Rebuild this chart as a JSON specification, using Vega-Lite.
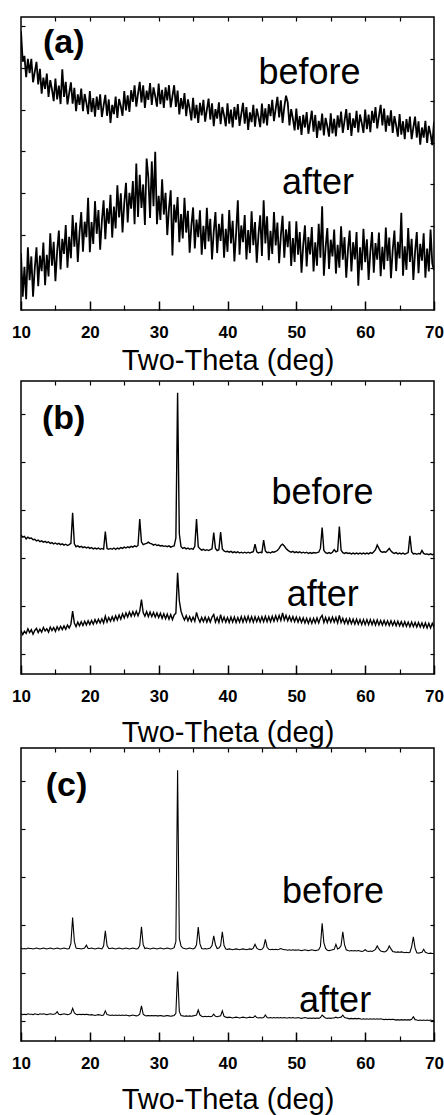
{
"$schema": "https://vega.github.io/schema/vega-lite/v6.json",
"background": "white",
"padding": {"left": 10, "top": 15, "right": 0, "bottom": 0},
"config": {
  "font": "Liberation Sans",
  "view": {"stroke": "black", "strokeWidth": 1.5},
  "axis": {"grid": false, "domain": false, "tickColor": "black", "tickWidth": 1.2, "labelColor": "black", "titleColor": "black", "labelFont": "Liberation Sans", "titleFont": "Liberation Sans"}
},
"datasets": {
"lab": [
{"p":"a","w":"b","t":"(a)","x":13.2,"y":6.14},
{"p":"a","w":"n","t":"before","x":44.5,"y":5.40},
{"p":"a","w":"n","t":"after","x":47.9,"y":2.77},
{"p":"b","w":"b","t":"(b)","x":13.05,"y":5.85},
{"p":"b","w":"n","t":"before","x":46.4,"y":4.06},
{"p":"b","w":"n","t":"after","x":48.6,"y":1.62},
{"p":"c","w":"b","t":"(c)","x":13.6,"y":5.85},
{"p":"c","w":"n","t":"before","x":47.9,"y":3.30},
{"p":"c","w":"n","t":"after","x":50.4,"y":0.69}
],
"d": [
{"x":10,"ab":6.66,"aa":1.36,"bb":3.32,"ba":1.04,"cb":2.22,"ca":0.65},
{"x":10.25,"ab":5.93,"aa":0.32,"bb":3.27,"ba":0.94,"cb":2.20,"ca":0.63},
{"x":10.5,"ab":6.07,"aa":1.03,"bb":3.29,"ba":1.02,"cb":2.21,"ca":0.64},
{"x":10.75,"ab":5.56,"aa":0.26,"bb":3.23,"ba":0.97,"cb":2.20,"ca":0.63},
{"x":11,"ab":6.00,"aa":1.50,"bb":3.27,"ba":1.08,"cb":2.22,"ca":0.65},
{"x":11.25,"ab":5.66,"aa":0.71,"bb":3.24,"ba":0.99,"cb":2.21,"ca":0.64},
{"x":11.5,"ab":6.00,"aa":1.28,"bb":3.25,"ba":1.06,"cb":2.21,"ca":0.64},
{"x":11.75,"ab":5.44,"aa":0.32,"bb":3.21,"ba":0.95,"cb":2.20,"ca":0.63},
{"x":12,"ab":5.69,"aa":1.00,"bb":3.22,"ba":1.04,"cb":2.21,"ca":0.65},
{"x":12.25,"ab":5.93,"aa":1.50,"bb":3.18,"ba":1.09,"cb":2.22,"ca":0.64},
{"x":12.5,"ab":5.39,"aa":0.57,"bb":3.20,"ba":0.99,"cb":2.21,"ca":0.63},
{"x":12.75,"ab":5.76,"aa":1.30,"bb":3.16,"ba":1.07,"cb":2.20,"ca":0.65},
{"x":13,"ab":5.17,"aa":0.93,"bb":3.18,"ba":1.00,"cb":2.21,"ca":0.64},
{"x":13.25,"ab":5.55,"aa":1.61,"bb":3.15,"ba":1.11,"cb":2.22,"ca":0.65},
{"x":13.5,"ab":5.28,"aa":0.59,"bb":3.17,"ba":1.03,"cb":2.21,"ca":0.64},
{"x":13.75,"ab":5.65,"aa":1.32,"bb":3.14,"ba":1.08,"cb":2.20,"ca":0.63},
{"x":14,"ab":5.09,"aa":0.80,"bb":3.16,"ba":1.00,"cb":2.21,"ca":0.64},
{"x":14.25,"ab":5.49,"aa":1.83,"bb":3.12,"ba":1.12,"cb":2.22,"ca":0.65},
{"x":14.5,"ab":5.27,"aa":1.06,"bb":3.14,"ba":1.04,"cb":2.21,"ca":0.64},
{"x":14.75,"ab":4.99,"aa":1.63,"bb":3.11,"ba":1.11,"cb":2.20,"ca":0.64},
{"x":15,"ab":5.53,"aa":0.69,"bb":3.13,"ba":1.02,"cb":2.21,"ca":0.65},
{"x":15.25,"ab":5.03,"aa":1.40,"bb":3.10,"ba":1.13,"cb":2.22,"ca":0.70},
{"x":15.5,"ab":5.36,"aa":1.90,"bb":3.12,"ba":1.05,"cb":2.21,"ca":0.64},
{"x":15.75,"ab":4.92,"aa":0.97,"bb":3.09,"ba":1.14,"cb":2.20,"ca":0.63},
{"x":16,"ab":5.75,"aa":1.70,"bb":3.11,"ba":1.06,"cb":2.21,"ca":0.64},
{"x":16.25,"ab":5.09,"aa":1.34,"bb":3.08,"ba":1.15,"cb":2.22,"ca":0.65},
{"x":16.5,"ab":5.45,"aa":2.03,"bb":3.10,"ba":1.07,"cb":2.21,"ca":0.64},
{"x":16.75,"ab":4.91,"aa":1.01,"bb":3.07,"ba":1.17,"cb":2.20,"ca":0.63},
{"x":17,"ab":5.18,"aa":1.75,"bb":3.09,"ba":1.10,"cb":2.21,"ca":0.64},
{"x":17.25,"ab":5.44,"aa":1.24,"bb":3.12,"ba":1.19,"cb":2.33,"ca":0.66},
{"x":17.5,"ab":4.93,"aa":2.27,"bb":3.85,"ba":1.50,"cb":2.95,"ca":0.78},
{"x":17.75,"ab":5.31,"aa":1.51,"bb":3.11,"ba":1.22,"cb":2.38,"ca":0.67},
{"x":18,"ab":4.75,"aa":2.09,"bb":3.04,"ba":1.13,"cb":2.22,"ca":0.64},
{"x":18.25,"ab":5.15,"aa":1.15,"bb":3.06,"ba":1.24,"cb":2.21,"ca":0.63},
{"x":18.5,"ab":4.90,"aa":1.84,"bb":3.03,"ba":1.15,"cb":2.21,"ca":0.64},
{"x":18.75,"ab":5.29,"aa":2.34,"bb":3.05,"ba":1.25,"cb":2.20,"ca":0.63},
{"x":19,"ab":4.75,"aa":1.39,"bb":3.02,"ba":1.16,"cb":2.21,"ca":0.64},
{"x":19.25,"ab":5.16,"aa":2.11,"bb":3.04,"ba":1.26,"cb":2.22,"ca":0.63},
{"x":19.5,"ab":4.95,"aa":1.74,"bb":3.01,"ba":1.17,"cb":2.29,"ca":0.64},
{"x":19.75,"ab":4.68,"aa":2.68,"bb":3.03,"ba":1.27,"cb":2.21,"ca":0.63},
{"x":20,"ab":5.23,"aa":1.38,"bb":3.00,"ba":1.18,"cb":2.21,"ca":0.62},
{"x":20.25,"ab":4.73,"aa":2.10,"bb":3.02,"ba":1.28,"cb":2.22,"ca":0.63},
{"x":20.5,"ab":5.06,"aa":1.58,"bb":2.99,"ba":1.19,"cb":2.21,"ca":0.62},
{"x":20.75,"ab":4.62,"aa":2.60,"bb":3.01,"ba":1.30,"cb":2.20,"ca":0.61},
{"x":21,"ab":5.10,"aa":1.82,"bb":2.99,"ba":1.21,"cb":2.21,"ca":0.62},
{"x":21.25,"ab":4.78,"aa":2.39,"bb":3.01,"ba":1.31,"cb":2.22,"ca":0.63},
{"x":21.5,"ab":5.15,"aa":1.44,"bb":2.98,"ba":1.22,"cb":2.21,"ca":0.62},
{"x":21.75,"ab":4.61,"aa":2.13,"bb":3.00,"ba":1.32,"cb":2.20,"ca":0.61},
{"x":22,"ab":4.88,"aa":2.62,"bb":2.98,"ba":1.22,"cb":2.27,"ca":0.62},
{"x":22.25,"ab":5.14,"aa":1.69,"bb":3.40,"ba":1.38,"cb":2.63,"ca":0.72},
{"x":22.5,"ab":4.64,"aa":2.43,"bb":3.00,"ba":1.24,"cb":2.28,"ca":0.63},
{"x":22.75,"ab":5.03,"aa":2.06,"bb":2.98,"ba":1.35,"cb":2.21,"ca":0.62},
{"x":23,"ab":4.47,"aa":2.75,"bb":3.00,"ba":1.26,"cb":2.21,"ca":0.61},
{"x":23.25,"ab":4.90,"aa":1.73,"bb":2.98,"ba":1.37,"cb":2.22,"ca":0.62},
{"x":23.5,"ab":4.68,"aa":2.47,"bb":3.01,"ba":1.27,"cb":2.21,"ca":0.61},
{"x":23.75,"ab":5.10,"aa":1.95,"bb":2.98,"ba":1.39,"cb":2.20,"ca":0.62},
{"x":24,"ab":4.59,"aa":2.98,"bb":3.01,"ba":1.29,"cb":2.21,"ca":0.61},
{"x":24.25,"ab":5.04,"aa":2.21,"bb":2.99,"ba":1.41,"cb":2.22,"ca":0.62},
{"x":24.5,"ab":4.87,"aa":2.79,"bb":3.02,"ba":1.31,"cb":2.21,"ca":0.61},
{"x":24.75,"ab":4.64,"aa":1.85,"bb":3.00,"ba":1.44,"cb":2.20,"ca":0.62},
{"x":25,"ab":5.23,"aa":2.55,"bb":3.03,"ba":1.34,"cb":2.21,"ca":0.61},
{"x":25.25,"ab":4.77,"aa":3.04,"bb":3.01,"ba":1.46,"cb":2.22,"ca":0.62},
{"x":25.5,"ab":5.13,"aa":2.09,"bb":3.04,"ba":1.36,"cb":2.21,"ca":0.61},
{"x":25.75,"ab":4.73,"aa":2.80,"bb":3.02,"ba":1.48,"cb":2.20,"ca":0.60},
{"x":26,"ab":5.25,"aa":2.42,"bb":3.05,"ba":1.38,"cb":2.21,"ca":0.61},
{"x":26.25,"ab":4.97,"aa":3.08,"bb":3.03,"ba":1.49,"cb":2.22,"ca":0.62},
{"x":26.5,"ab":5.37,"aa":2.05,"bb":3.06,"ba":1.39,"cb":2.21,"ca":0.61},
{"x":26.75,"ab":4.86,"aa":3.50,"bb":3.04,"ba":1.50,"cb":2.20,"ca":0.60},
{"x":27,"ab":5.17,"aa":2.22,"bb":3.07,"ba":1.39,"cb":2.21,"ca":0.61},
{"x":27.25,"ab":5.45,"aa":3.23,"bb":3.70,"ba":1.50,"cb":2.28,"ca":0.64},
{"x":27.5,"ab":4.96,"aa":2.44,"bb":3.16,"ba":1.78,"cb":2.73,"ca":0.84},
{"x":27.75,"ab":5.37,"aa":3.00,"bb":3.09,"ba":1.47,"cb":2.30,"ca":0.64},
{"x":28,"ab":4.83,"aa":2.03,"bb":3.11,"ba":1.38,"cb":2.21,"ca":0.61},
{"x":28.25,"ab":5.24,"aa":3.62,"bb":3.12,"ba":1.49,"cb":2.22,"ca":0.60},
{"x":28.5,"ab":5.02,"aa":3.17,"bb":3.15,"ba":1.37,"cb":2.21,"ca":0.61},
{"x":28.75,"ab":5.42,"aa":2.20,"bb":3.12,"ba":1.48,"cb":2.20,"ca":0.60},
{"x":29,"ab":4.90,"aa":3.55,"bb":3.11,"ba":1.37,"cb":2.21,"ca":0.61},
{"x":29.25,"ab":5.32,"aa":2.48,"bb":3.08,"ba":1.47,"cb":2.22,"ca":0.60},
{"x":29.5,"ab":5.11,"aa":3.78,"bb":3.10,"ba":1.36,"cb":2.21,"ca":0.61},
{"x":29.75,"ab":4.86,"aa":2.05,"bb":3.07,"ba":1.46,"cb":2.20,"ca":0.60},
{"x":30,"ab":5.41,"aa":2.73,"bb":3.08,"ba":1.35,"cb":2.21,"ca":0.60},
{"x":30.25,"ab":4.92,"aa":2.15,"bb":3.06,"ba":1.45,"cb":2.22,"ca":0.61},
{"x":30.5,"ab":5.26,"aa":3.12,"bb":3.07,"ba":1.33,"cb":2.21,"ca":0.60},
{"x":30.75,"ab":4.83,"aa":2.28,"bb":3.05,"ba":1.44,"cb":2.20,"ca":0.59},
{"x":31,"ab":5.32,"aa":2.80,"bb":3.06,"ba":1.32,"cb":2.21,"ca":0.60},
{"x":31.25,"ab":5.01,"aa":1.79,"bb":3.04,"ba":1.43,"cb":2.22,"ca":0.61},
{"x":31.5,"ab":5.37,"aa":2.43,"bb":3.06,"ba":1.31,"cb":2.21,"ca":0.60},
{"x":31.75,"ab":4.84,"aa":2.86,"bb":3.03,"ba":1.42,"cb":2.20,"ca":0.59},
{"x":32,"ab":5.11,"aa":1.30,"bb":3.05,"ba":1.30,"cb":2.21,"ca":0.60},
{"x":32.25,"ab":5.37,"aa":2.52,"bb":3.06,"ba":1.41,"cb":2.23,"ca":0.61},
{"x":32.5,"ab":4.85,"aa":2.09,"bb":3.25,"ba":1.45,"cb":2.38,"ca":0.66},
{"x":32.75,"ab":5.24,"aa":2.70,"bb":6.72,"ba":2.42,"cb":6.47,"ca":1.66},
{"x":33,"ab":4.67,"aa":1.62,"bb":3.35,"ba":1.75,"cb":2.45,"ca":0.70},
{"x":33.25,"ab":5.06,"aa":2.29,"bb":3.04,"ba":1.50,"cb":2.27,"ca":0.61},
{"x":33.5,"ab":4.80,"aa":1.71,"bb":3.00,"ba":1.38,"cb":2.22,"ca":0.60},
{"x":33.75,"ab":5.18,"aa":2.68,"bb":3.02,"ba":1.29,"cb":2.21,"ca":0.59},
{"x":34,"ab":4.63,"aa":1.85,"bb":2.99,"ba":1.39,"cb":2.20,"ca":0.60},
{"x":34.25,"ab":5.03,"aa":2.37,"bb":3.01,"ba":1.27,"cb":2.21,"ca":0.59},
{"x":34.5,"ab":4.81,"aa":1.37,"bb":2.98,"ba":1.37,"cb":2.22,"ca":0.60},
{"x":34.75,"ab":4.53,"aa":2.01,"bb":3.00,"ba":1.26,"cb":2.21,"ca":0.59},
{"x":35,"ab":5.07,"aa":2.45,"bb":2.98,"ba":1.36,"cb":2.20,"ca":0.60},
{"x":35.25,"ab":4.58,"aa":1.47,"bb":3.05,"ba":1.26,"cb":2.22,"ca":0.61},
{"x":35.5,"ab":4.90,"aa":2.16,"bb":3.70,"ba":1.47,"cb":2.30,"ca":0.62},
{"x":35.75,"ab":4.47,"aa":1.74,"bb":3.04,"ba":1.33,"cb":2.72,"ca":0.74},
{"x":36,"ab":4.95,"aa":2.38,"bb":2.99,"ba":1.24,"cb":2.32,"ca":0.62},
{"x":36.25,"ab":4.65,"aa":1.32,"bb":2.96,"ba":1.35,"cb":2.21,"ca":0.59},
{"x":36.5,"ab":5.02,"aa":2.01,"bb":2.98,"ba":1.25,"cb":2.20,"ca":0.58},
{"x":36.75,"ab":4.50,"aa":1.45,"bb":2.95,"ba":1.36,"cb":2.21,"ca":0.59},
{"x":37,"ab":4.78,"aa":2.44,"bb":2.97,"ba":1.24,"cb":2.20,"ca":0.58},
{"x":37.25,"ab":5.05,"aa":1.64,"bb":2.95,"ba":1.35,"cb":2.21,"ca":0.59},
{"x":37.5,"ab":4.55,"aa":2.18,"bb":2.97,"ba":1.24,"cb":2.22,"ca":0.58},
{"x":37.75,"ab":4.94,"aa":1.21,"bb":2.99,"ba":1.36,"cb":2.28,"ca":0.59},
{"x":38,"ab":4.39,"aa":1.87,"bb":3.38,"ba":1.42,"cb":2.51,"ca":0.64},
{"x":38.25,"ab":4.80,"aa":2.34,"bb":3.00,"ba":1.24,"cb":2.30,"ca":0.59},
{"x":38.5,"ab":4.57,"aa":1.36,"bb":2.95,"ba":1.35,"cb":2.21,"ca":0.58},
{"x":38.75,"ab":4.96,"aa":2.06,"bb":2.97,"ba":1.23,"cb":2.22,"ca":0.59},
{"x":39,"ab":4.44,"aa":1.65,"bb":3.39,"ba":1.42,"cb":2.28,"ca":0.60},
{"x":39.25,"ab":4.85,"aa":2.30,"bb":2.99,"ba":1.25,"cb":2.61,"ca":0.72},
{"x":39.5,"ab":4.65,"aa":1.25,"bb":2.94,"ba":1.36,"cb":2.28,"ca":0.59},
{"x":39.75,"ab":4.39,"aa":1.94,"bb":2.92,"ba":1.24,"cb":2.20,"ca":0.57},
{"x":40,"ab":4.94,"aa":1.39,"bb":2.93,"ba":1.35,"cb":2.19,"ca":0.56},
{"x":40.25,"ab":4.45,"aa":2.39,"bb":2.91,"ba":1.23,"cb":2.20,"ca":0.57},
{"x":40.5,"ab":4.79,"aa":1.59,"bb":2.93,"ba":1.36,"cb":2.19,"ca":0.56},
{"x":40.75,"ab":4.36,"aa":2.13,"bb":2.90,"ba":1.24,"cb":2.18,"ca":0.55},
{"x":41,"ab":4.85,"aa":1.16,"bb":2.92,"ba":1.36,"cb":2.19,"ca":0.56},
{"x":41.25,"ab":4.55,"aa":1.83,"bb":2.90,"ba":1.23,"cb":2.20,"ca":0.57},
{"x":41.5,"ab":4.92,"aa":2.62,"bb":2.92,"ba":1.35,"cb":2.19,"ca":0.56},
{"x":41.75,"ab":4.40,"aa":1.32,"bb":2.89,"ba":1.24,"cb":2.18,"ca":0.55},
{"x":42,"ab":4.68,"aa":2.02,"bb":2.91,"ba":1.37,"cb":2.19,"ca":0.56},
{"x":42.25,"ab":4.95,"aa":1.62,"bb":2.89,"ba":1.24,"cb":2.20,"ca":0.57},
{"x":42.5,"ab":4.45,"aa":2.27,"bb":2.91,"ba":1.37,"cb":2.19,"ca":0.56},
{"x":42.75,"ab":4.85,"aa":1.21,"bb":2.89,"ba":1.25,"cb":2.18,"ca":0.55},
{"x":43,"ab":4.30,"aa":1.91,"bb":2.91,"ba":1.38,"cb":2.19,"ca":0.56},
{"x":43.25,"ab":4.72,"aa":1.36,"bb":2.89,"ba":1.25,"cb":2.20,"ca":0.57},
{"x":43.5,"ab":4.49,"aa":2.36,"bb":2.91,"ba":1.37,"cb":2.19,"ca":0.56},
{"x":43.75,"ab":4.90,"aa":1.55,"bb":2.92,"ba":1.24,"cb":2.22,"ca":0.56},
{"x":44,"ab":4.38,"aa":2.10,"bb":3.10,"ba":1.37,"cb":2.31,"ca":0.60},
{"x":44.25,"ab":4.81,"aa":1.13,"bb":2.92,"ba":1.25,"cb":2.22,"ca":0.56},
{"x":44.5,"ab":4.61,"aa":1.80,"bb":2.89,"ba":1.36,"cb":2.19,"ca":0.55},
{"x":44.75,"ab":4.37,"aa":2.26,"bb":2.91,"ba":1.24,"cb":2.18,"ca":0.56},
{"x":45,"ab":4.93,"aa":1.29,"bb":2.90,"ba":1.37,"cb":2.19,"ca":0.55},
{"x":45.25,"ab":4.46,"aa":2.62,"bb":3.20,"ba":1.25,"cb":2.24,"ca":0.56},
{"x":45.5,"ab":4.82,"aa":1.59,"bb":2.94,"ba":1.38,"cb":2.43,"ca":0.62},
{"x":45.75,"ab":4.41,"aa":2.24,"bb":2.90,"ba":1.25,"cb":2.24,"ca":0.56},
{"x":46,"ab":4.92,"aa":1.19,"bb":2.91,"ba":1.37,"cb":2.19,"ca":0.55},
{"x":46.25,"ab":4.63,"aa":1.89,"bb":2.89,"ba":1.25,"cb":2.18,"ca":0.56},
{"x":46.5,"ab":5.02,"aa":1.34,"bb":2.92,"ba":1.38,"cb":2.19,"ca":0.55},
{"x":46.75,"ab":4.51,"aa":2.34,"bb":2.91,"ba":1.26,"cb":2.18,"ca":0.56},
{"x":47,"ab":4.81,"aa":1.54,"bb":2.93,"ba":1.39,"cb":2.19,"ca":0.55},
{"x":47.25,"ab":5.09,"aa":2.09,"bb":2.95,"ba":1.27,"cb":2.18,"ca":0.56},
{"x":47.5,"ab":4.60,"aa":1.12,"bb":3.00,"ba":1.40,"cb":2.19,"ca":0.55},
{"x":47.75,"ab":5.01,"aa":1.78,"bb":3.07,"ba":1.28,"cb":2.21,"ca":0.56},
{"x":48,"ab":4.47,"aa":2.25,"bb":3.10,"ba":1.46,"cb":2.19,"ca":0.55},
{"x":48.25,"ab":4.85,"aa":1.25,"bb":3.06,"ba":1.29,"cb":2.18,"ca":0.56},
{"x":48.5,"ab":5.12,"aa":1.93,"bb":3.00,"ba":1.40,"cb":2.18,"ca":0.55},
{"x":48.75,"ab":4.96,"aa":1.50,"bb":2.96,"ba":1.27,"cb":2.17,"ca":0.55},
{"x":49,"ab":4.41,"aa":2.12,"bb":2.93,"ba":1.38,"cb":2.18,"ca":0.56},
{"x":49.25,"ab":4.80,"aa":1.05,"bb":2.91,"ba":1.26,"cb":2.17,"ca":0.55},
{"x":49.5,"ab":4.57,"aa":1.72,"bb":2.93,"ba":1.37,"cb":2.18,"ca":0.56},
{"x":49.75,"ab":4.29,"aa":1.15,"bb":2.90,"ba":1.25,"cb":2.17,"ca":0.55},
{"x":50,"ab":4.81,"aa":2.12,"bb":2.92,"ba":1.36,"cb":2.17,"ca":0.55},
{"x":50.25,"ab":4.31,"aa":1.32,"bb":2.90,"ba":1.24,"cb":2.18,"ca":0.56},
{"x":50.5,"ab":4.63,"aa":1.86,"bb":2.92,"ba":1.35,"cb":2.17,"ca":0.55},
{"x":50.75,"ab":4.18,"aa":0.89,"bb":2.89,"ba":1.23,"cb":2.16,"ca":0.54},
{"x":51,"ab":4.66,"aa":1.55,"bb":2.91,"ba":1.34,"cb":2.17,"ca":0.55},
{"x":51.25,"ab":4.36,"aa":2.02,"bb":2.89,"ba":1.22,"cb":2.18,"ca":0.56},
{"x":51.5,"ab":4.73,"aa":1.04,"bb":2.91,"ba":1.33,"cb":2.17,"ca":0.55},
{"x":51.75,"ab":4.21,"aa":1.74,"bb":2.88,"ba":1.21,"cb":2.16,"ca":0.54},
{"x":52,"ab":4.49,"aa":1.33,"bb":2.90,"ba":1.33,"cb":2.17,"ca":0.55},
{"x":52.25,"ab":4.76,"aa":1.98,"bb":2.88,"ba":1.21,"cb":2.18,"ca":0.54},
{"x":52.5,"ab":4.26,"aa":0.92,"bb":2.90,"ba":1.33,"cb":2.17,"ca":0.55},
{"x":52.75,"ab":4.66,"aa":1.62,"bb":2.89,"ba":1.22,"cb":2.16,"ca":0.54},
{"x":53,"ab":4.11,"aa":1.06,"bb":2.90,"ba":1.34,"cb":2.17,"ca":0.55},
{"x":53.25,"ab":4.52,"aa":2.06,"bb":2.91,"ba":1.22,"cb":2.18,"ca":0.54},
{"x":53.5,"ab":4.29,"aa":1.25,"bb":3.00,"ba":1.34,"cb":2.26,"ca":0.56},
{"x":53.75,"ab":4.69,"aa":2.48,"bb":3.50,"ba":1.40,"cb":2.81,"ca":0.62},
{"x":54,"ab":4.17,"aa":0.82,"bb":2.95,"ba":1.23,"cb":2.35,"ca":0.58},
{"x":54.25,"ab":4.59,"aa":1.49,"bb":2.90,"ba":1.35,"cb":2.21,"ca":0.55},
{"x":54.5,"ab":4.39,"aa":1.96,"bb":2.88,"ba":1.23,"cb":2.17,"ca":0.54},
{"x":54.75,"ab":4.14,"aa":0.98,"bb":2.90,"ba":1.35,"cb":2.16,"ca":0.55},
{"x":55,"ab":4.70,"aa":1.68,"bb":2.88,"ba":1.24,"cb":2.17,"ca":0.54},
{"x":55.25,"ab":4.22,"aa":1.28,"bb":2.91,"ba":1.36,"cb":2.18,"ca":0.55},
{"x":55.5,"ab":4.57,"aa":1.92,"bb":2.97,"ba":1.24,"cb":2.19,"ca":0.55},
{"x":55.75,"ab":4.15,"aa":0.87,"bb":2.92,"ba":1.35,"cb":2.31,"ca":0.57},
{"x":56,"ab":4.65,"aa":1.56,"bb":2.94,"ba":1.22,"cb":2.20,"ca":0.55},
{"x":56.25,"ab":4.36,"aa":1.01,"bb":3.52,"ba":1.40,"cb":2.22,"ca":0.56},
{"x":56.5,"ab":4.74,"aa":2.00,"bb":2.96,"ba":1.23,"cb":2.28,"ca":0.57},
{"x":56.75,"ab":4.23,"aa":1.20,"bb":2.90,"ba":1.33,"cb":2.61,"ca":0.62},
{"x":57,"ab":4.52,"aa":1.74,"bb":2.88,"ba":1.21,"cb":2.30,"ca":0.56},
{"x":57.25,"ab":4.80,"aa":0.77,"bb":2.90,"ba":1.32,"cb":2.18,"ca":0.55},
{"x":57.5,"ab":4.30,"aa":1.43,"bb":2.88,"ba":1.20,"cb":2.16,"ca":0.54},
{"x":57.75,"ab":4.71,"aa":1.90,"bb":2.89,"ba":1.32,"cb":2.15,"ca":0.53},
{"x":58,"ab":4.16,"aa":0.92,"bb":2.87,"ba":1.20,"cb":2.16,"ca":0.54},
{"x":58.25,"ab":4.58,"aa":1.62,"bb":2.89,"ba":1.31,"cb":2.15,"ca":0.53},
{"x":58.5,"ab":4.35,"aa":1.21,"bb":2.87,"ba":1.19,"cb":2.16,"ca":0.54},
{"x":58.75,"ab":4.76,"aa":1.86,"bb":2.89,"ba":1.31,"cb":2.15,"ca":0.53},
{"x":59,"ab":4.24,"aa":0.58,"bb":2.87,"ba":1.19,"cb":2.16,"ca":0.54},
{"x":59.25,"ab":4.67,"aa":1.50,"bb":2.89,"ba":1.30,"cb":2.15,"ca":0.53},
{"x":59.5,"ab":4.47,"aa":0.95,"bb":2.87,"ba":1.18,"cb":2.14,"ca":0.52},
{"x":59.75,"ab":4.23,"aa":1.94,"bb":2.89,"ba":1.30,"cb":2.15,"ca":0.53},
{"x":60,"ab":4.79,"aa":1.14,"bb":2.87,"ba":1.18,"cb":2.18,"ca":0.52},
{"x":60.25,"ab":4.32,"aa":1.69,"bb":2.89,"ba":1.30,"cb":2.15,"ca":0.53},
{"x":60.5,"ab":4.67,"aa":0.72,"bb":2.87,"ba":1.18,"cb":2.14,"ca":0.52},
{"x":60.75,"ab":4.25,"aa":1.39,"bb":2.90,"ba":1.30,"cb":2.15,"ca":0.53},
{"x":61,"ab":4.76,"aa":1.86,"bb":2.88,"ba":1.18,"cb":2.14,"ca":0.52},
{"x":61.25,"ab":4.47,"aa":0.89,"bb":2.92,"ba":1.29,"cb":2.16,"ca":0.53},
{"x":61.5,"ab":4.85,"aa":1.60,"bb":2.97,"ba":1.17,"cb":2.19,"ca":0.52},
{"x":61.75,"ab":4.34,"aa":1.20,"bb":3.08,"ba":1.29,"cb":2.27,"ca":0.53},
{"x":62,"ab":4.63,"aa":1.85,"bb":3.00,"ba":1.17,"cb":2.20,"ca":0.52},
{"x":62.25,"ab":4.90,"aa":0.81,"bb":2.93,"ba":1.28,"cb":2.15,"ca":0.53},
{"x":62.5,"ab":4.41,"aa":1.51,"bb":2.91,"ba":1.17,"cb":2.14,"ca":0.52},
{"x":62.75,"ab":4.81,"aa":0.97,"bb":2.92,"ba":1.28,"cb":2.13,"ca":0.51},
{"x":63,"ab":4.26,"aa":1.97,"bb":2.91,"ba":1.17,"cb":2.14,"ca":0.52},
{"x":63.25,"ab":4.65,"aa":1.17,"bb":2.95,"ba":1.27,"cb":2.18,"ca":0.51},
{"x":63.5,"ab":4.40,"aa":1.73,"bb":3.00,"ba":1.16,"cb":2.27,"ca":0.52},
{"x":63.75,"ab":4.77,"aa":0.76,"bb":2.94,"ba":1.27,"cb":2.20,"ca":0.51},
{"x":64,"ab":4.23,"aa":1.43,"bb":2.90,"ba":1.16,"cb":2.14,"ca":0.52},
{"x":64.25,"ab":4.63,"aa":1.90,"bb":2.88,"ba":1.26,"cb":2.13,"ca":0.51},
{"x":64.5,"ab":4.41,"aa":0.93,"bb":2.90,"ba":1.15,"cb":2.12,"ca":0.50},
{"x":64.75,"ab":4.14,"aa":1.63,"bb":2.87,"ba":1.26,"cb":2.13,"ca":0.51},
{"x":65,"ab":4.68,"aa":1.23,"bb":2.89,"ba":1.15,"cb":2.12,"ca":0.50},
{"x":65.25,"ab":4.19,"aa":2.32,"bb":2.87,"ba":1.25,"cb":2.13,"ca":0.51},
{"x":65.5,"ab":4.51,"aa":0.82,"bb":2.89,"ba":1.14,"cb":2.12,"ca":0.50},
{"x":65.75,"ab":4.08,"aa":1.52,"bb":2.86,"ba":1.25,"cb":2.11,"ca":0.51},
{"x":66,"ab":4.56,"aa":0.96,"bb":2.88,"ba":1.14,"cb":2.12,"ca":0.50},
{"x":66.25,"ab":4.25,"aa":1.96,"bb":2.90,"ba":1.24,"cb":2.11,"ca":0.51},
{"x":66.5,"ab":4.62,"aa":1.15,"bb":3.30,"ba":1.13,"cb":2.12,"ca":0.50},
{"x":66.75,"ab":4.08,"aa":1.70,"bb":2.92,"ba":1.24,"cb":2.25,"ca":0.52},
{"x":67,"ab":4.36,"aa":0.72,"bb":2.87,"ba":1.13,"cb":2.49,"ca":0.58},
{"x":67.25,"ab":4.62,"aa":1.39,"bb":2.88,"ba":1.23,"cb":2.22,"ca":0.51},
{"x":67.5,"ab":4.12,"aa":1.86,"bb":2.86,"ba":1.12,"cb":2.11,"ca":0.50},
{"x":67.75,"ab":4.51,"aa":0.88,"bb":2.88,"ba":1.23,"cb":2.10,"ca":0.49},
{"x":68,"ab":3.95,"aa":1.58,"bb":2.87,"ba":1.12,"cb":2.11,"ca":0.50},
{"x":68.25,"ab":4.36,"aa":1.18,"bb":2.95,"ba":1.22,"cb":2.12,"ca":0.49},
{"x":68.5,"ab":4.12,"aa":1.83,"bb":2.88,"ba":1.11,"cb":2.19,"ca":0.50},
{"x":68.75,"ab":4.52,"aa":0.77,"bb":2.86,"ba":1.22,"cb":2.12,"ca":0.49},
{"x":69,"ab":3.99,"aa":1.47,"bb":2.87,"ba":1.10,"cb":2.10,"ca":0.50},
{"x":69.25,"ab":4.40,"aa":0.92,"bb":2.85,"ba":1.21,"cb":2.09,"ca":0.49},
{"x":69.5,"ab":4.20,"aa":1.92,"bb":2.87,"ba":1.10,"cb":2.10,"ca":0.50},
{"x":69.75,"ab":3.94,"aa":1.11,"bb":2.85,"ba":1.21,"cb":2.09,"ca":0.49},
{"x":70,"ab":4.49,"aa":0.95,"bb":2.86,"ba":1.12,"cb":2.09,"ca":0.49}
]
},
"spacing": -2,
"vconcat": [
{"spacing": 3, "vconcat": [
{
 "width": 413, "height": 293,
 "resolve": {"axis": {"x": "independent", "y": "independent"}},
 "layer": [
  {"data": {"name": "d"},
   "transform": [{"fold": ["ab","aa"], "as": ["s","v"]}],
   "mark": {"type": "line", "color": "black", "strokeWidth": 1.8, "clip": true},
   "encoding": {
    "x": {"field": "x", "type": "quantitative", "scale": {"domain": [10,70], "nice": false, "zero": false},
          "axis": {"orient": "bottom", "values": [10,20,30,40,50,60,70], "tickSize": -9, "tickWidth": 1.5, "labelFontSize": 17, "labelFontWeight": "bold", "labelPadding": 23, "labelFlush": false, "labelOverlap": false, "title": "Two-Theta (deg)", "titleFontSize": 29, "titleFontWeight": "normal", "titlePadding": 6}},
    "y": {"field": "v", "type": "quantitative", "scale": {"domain": [0,7], "nice": false, "zero": false},
          "axis": {"orient": "left", "values": [0.79,1.79,2.79,3.79,4.79,5.79,6.79], "tickSize": -4, "labels": false, "title": null}},
    "detail": {"field": "s", "type": "nominal"}}},
  {"data": {"name": "lab"},
   "transform": [{"filter": "datum.p == 'a' && datum.w == 'n'"}],
   "mark": {"type": "text", "fontSize": 36, "align": "left", "baseline": "alphabetic", "color": "black", "font": "Liberation Sans"},
   "encoding": {
    "x": {"field": "x", "type": "quantitative", "scale": {"domain": [10,70], "nice": false, "zero": false},
          "axis": {"orient": "bottom", "values": [15,25,35,45,55,65], "tickSize": -5, "labels": false, "title": null}},
    "y": {"field": "y", "type": "quantitative", "scale": {"domain": [0,7], "nice": false, "zero": false},
          "axis": {"orient": "right", "values": [1,2,3,4,5,6], "tickSize": -4, "labels": false, "title": null}},
    "text": {"field": "t"}}},
  {"data": {"name": "lab"},
   "transform": [{"filter": "datum.p == 'a' && datum.w == 'b'"}],
   "mark": {"type": "text", "fontSize": 34, "fontWeight": "bold", "align": "left", "baseline": "alphabetic", "color": "black", "font": "Liberation Sans"},
   "encoding": {
    "x": {"field": "x", "type": "quantitative", "scale": {"domain": [10,70], "nice": false, "zero": false},
          "axis": {"orient": "top", "values": [15,20,25,30,35,40,45,50,55,60,65], "tickSize": -4, "labels": false, "title": null}},
    "y": {"field": "y", "type": "quantitative", "scale": {"domain": [0,7], "nice": false, "zero": false}, "axis": null},
    "text": {"field": "t"}}}
 ]
},
{
 "width": 413, "height": 293,
 "resolve": {"axis": {"x": "independent", "y": "independent"}},
 "layer": [
  {"data": {"name": "d"},
   "transform": [{"fold": ["bb","ba"], "as": ["s","v"]}],
   "mark": {"type": "line", "color": "black", "strokeWidth": 1.4, "clip": true},
   "encoding": {
    "x": {"field": "x", "type": "quantitative", "scale": {"domain": [10,70], "nice": false, "zero": false},
          "axis": {"orient": "bottom", "values": [10,20,30,40,50,60,70], "tickSize": -9, "tickWidth": 1.5, "labelFontSize": 17, "labelFontWeight": "bold", "labelPadding": 23, "labelFlush": false, "labelOverlap": false, "title": "Two-Theta (deg)", "titleFontSize": 29, "titleFontWeight": "normal", "titlePadding": 14}},
    "y": {"field": "v", "type": "quantitative", "scale": {"domain": [0,7], "nice": false, "zero": false},
          "axis": {"orient": "left", "values": [0.48,1.63,2.77,3.92,5.07,6.21], "tickSize": -4, "labels": false, "title": null}},
    "detail": {"field": "s", "type": "nominal"}}},
  {"data": {"name": "lab"},
   "transform": [{"filter": "datum.p == 'b' && datum.w == 'n'"}],
   "mark": {"type": "text", "fontSize": 36, "align": "left", "baseline": "alphabetic", "color": "black", "font": "Liberation Sans"},
   "encoding": {
    "x": {"field": "x", "type": "quantitative", "scale": {"domain": [10,70], "nice": false, "zero": false},
          "axis": {"orient": "bottom", "values": [15,25,35,45,55,65], "tickSize": -5, "labels": false, "title": null}},
    "y": {"field": "y", "type": "quantitative", "scale": {"domain": [0,7], "nice": false, "zero": false},
          "axis": {"orient": "right", "values": [0.48,1.63,2.77,3.92,5.07,6.21], "tickSize": -4, "labels": false, "title": null}},
    "text": {"field": "t"}}},
  {"data": {"name": "lab"},
   "transform": [{"filter": "datum.p == 'b' && datum.w == 'b'"}],
   "mark": {"type": "text", "fontSize": 34, "fontWeight": "bold", "align": "left", "baseline": "alphabetic", "color": "black", "font": "Liberation Sans"},
   "encoding": {
    "x": {"field": "x", "type": "quantitative", "scale": {"domain": [10,70], "nice": false, "zero": false},
          "axis": {"orient": "top", "values": [15,20,25,30,35,40,45,50,55,60,65], "tickSize": -4, "labels": false, "title": null}},
    "y": {"field": "y", "type": "quantitative", "scale": {"domain": [0,7], "nice": false, "zero": false}, "axis": null},
    "text": {"field": "t"}}}
 ]
}
]},
{
 "width": 413, "height": 293,
 "resolve": {"axis": {"x": "independent", "y": "independent"}},
 "layer": [
  {"data": {"name": "d"},
   "transform": [{"fold": ["cb","ca"], "as": ["s","v"]}],
   "mark": {"type": "line", "color": "black", "strokeWidth": 1.1, "clip": true},
   "encoding": {
    "x": {"field": "x", "type": "quantitative", "scale": {"domain": [10,70], "nice": false, "zero": false},
          "axis": {"orient": "bottom", "values": [10,20,30,40,50,60,70], "tickSize": -9, "tickWidth": 1.5, "labelFontSize": 17, "labelFontWeight": "bold", "labelPadding": 23, "labelFlush": false, "labelOverlap": false, "title": "Two-Theta (deg)", "titleFontSize": 29, "titleFontWeight": "normal", "titlePadding": 14}},
    "y": {"field": "v", "type": "quantitative", "scale": {"domain": [0,7], "nice": false, "zero": false},
          "axis": {"orient": "left", "values": [0.48,1.63,2.77,3.92,5.07,6.21], "tickSize": -4, "labels": false, "title": null}},
    "detail": {"field": "s", "type": "nominal"}}},
  {"data": {"name": "lab"},
   "transform": [{"filter": "datum.p == 'c' && datum.w == 'n'"}],
   "mark": {"type": "text", "fontSize": 36, "align": "left", "baseline": "alphabetic", "color": "black", "font": "Liberation Sans"},
   "encoding": {
    "x": {"field": "x", "type": "quantitative", "scale": {"domain": [10,70], "nice": false, "zero": false},
          "axis": {"orient": "bottom", "values": [15,25,35,45,55,65], "tickSize": -5, "labels": false, "title": null}},
    "y": {"field": "y", "type": "quantitative", "scale": {"domain": [0,7], "nice": false, "zero": false},
          "axis": {"orient": "right", "values": [0.48,1.63,2.77,3.92,5.07,6.21], "tickSize": -4, "labels": false, "title": null}},
    "text": {"field": "t"}}},
  {"data": {"name": "lab"},
   "transform": [{"filter": "datum.p == 'c' && datum.w == 'b'"}],
   "mark": {"type": "text", "fontSize": 34, "fontWeight": "bold", "align": "left", "baseline": "alphabetic", "color": "black", "font": "Liberation Sans"},
   "encoding": {
    "x": {"field": "x", "type": "quantitative", "scale": {"domain": [10,70], "nice": false, "zero": false},
          "axis": {"orient": "top", "values": [15,20,25,30,35,40,45,50,55,60,65], "tickSize": -4, "labels": false, "title": null}},
    "y": {"field": "y", "type": "quantitative", "scale": {"domain": [0,7], "nice": false, "zero": false}, "axis": null},
    "text": {"field": "t"}}}
 ]
}
]
}
